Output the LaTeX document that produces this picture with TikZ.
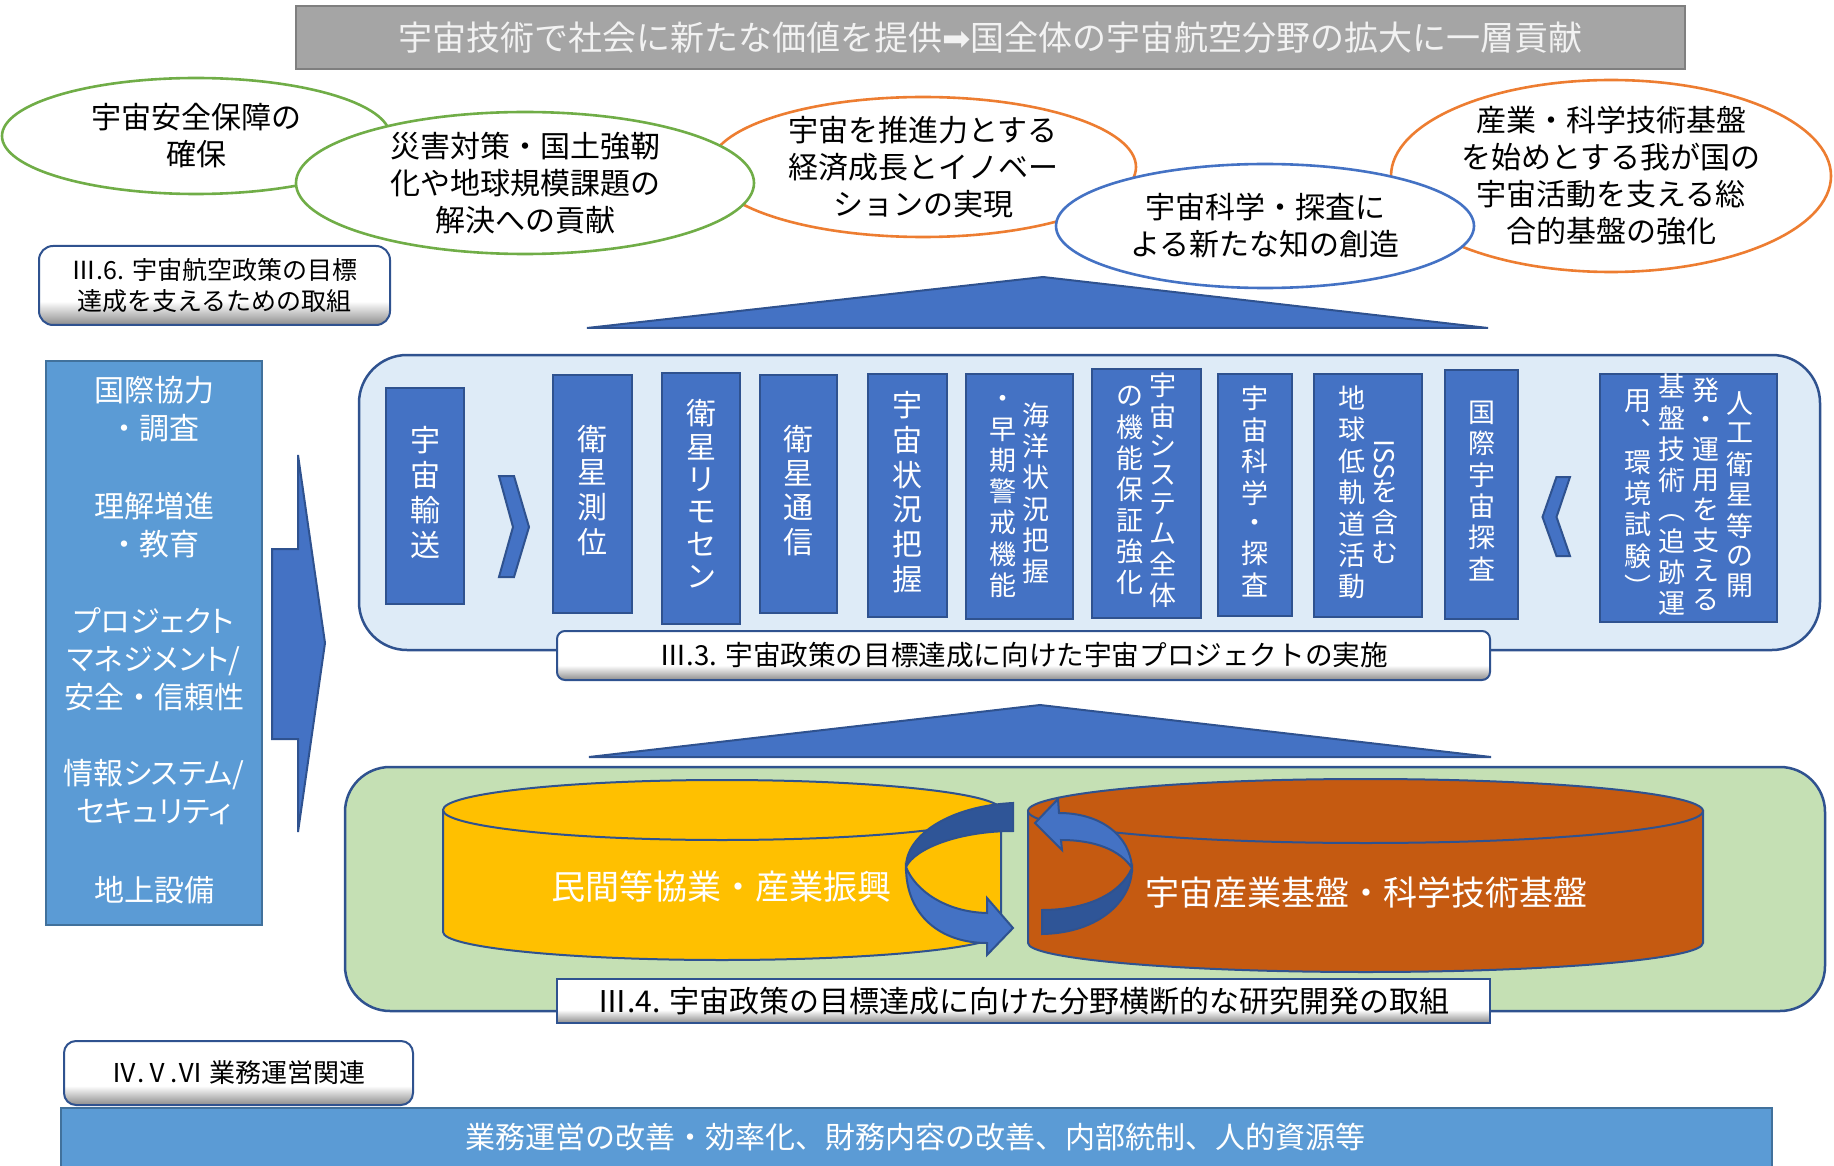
\documentclass[tikz,border=0pt]{standalone}
\usepackage{fontspec}
\setmainfont{Noto Sans CJK JP}
\newfontfamily\pfont{Noto Sans CJK JP}[RawFeature=+palt]
\newfontfamily\dejavu{DejaVu Sans}
\usepackage{graphicx}
\usetikzlibrary{shapes.geometric}
\definecolor{barblue}{HTML}{4472C4}
\definecolor{darkedge}{HTML}{2F528F}
\definecolor{colblue}{HTML}{5B9BD5}
\definecolor{coledge}{HTML}{41719C}
\definecolor{lightbg}{HTML}{DEEBF7}
\definecolor{greenbg}{HTML}{C5E0B4}
\definecolor{egreen}{HTML}{70AD47}
\definecolor{eorange}{HTML}{ED7D31}
\definecolor{topgray}{HTML}{A5A5A5}
\definecolor{topedge}{HTML}{7F7F7F}
\definecolor{cylyellow}{HTML}{FFC000}
\definecolor{cylorange}{HTML}{C55A11}
\definecolor{arrdark}{HTML}{2F5597}
\definecolor{shgray}{HTML}{8C8C8C}
\pgfdeclareverticalshading{btnshade}{100bp}{color(0bp)=(shgray); color(25bp)=(shgray); color(40bp)=(white); color(75bp)=(white); color(100bp)=(white)}
\newcommand\fsz[2]{\fontsize{#1pt}{#2pt}\selectfont}
\newcommand\vcol[1]{\begin{tabular}[c]{@{}c@{}}#1\end{tabular}}
\begin{document}
\begin{tikzpicture}[x=1pt,y=-1pt,
  every node/.style={inner sep=0pt, outer sep=0pt},
  edge/.style={draw=darkedge, line width=2pt},
  bar/.style={edge, fill=barblue, text=white, font=\fsz{30}{32}},
  barsm/.style={bar, font=\fsz{27}{29}},
  oval/.style={ellipse, draw, fill=white, line width=2.6pt},
  otext/.style={align=center, font=\fsz{30}{37}, text=black},
  ltext/.style={align=center, font=\fsz{30}{38}, text=white},
  lbl/.style={edge, shade, shading=btnshade, text=black},
  blk/.style={draw=coledge, line width=2pt, fill=colblue, text=white},
  arrlight/.style={edge, fill=barblue},
  arrdk/.style={edge, fill=arrdark},
  cyltext/.style={text=white, font=\fsz{34}{36}},
]
\useasboundingbox (0,0) rectangle (1834,1166);
\clip (0,0) rectangle (1834,1166);

% top banner
\node[draw=topedge, line width=2.5pt, fill=topgray, minimum width=1389pt, minimum height=63pt,
      text=white!95!black, font=\fsz{34}{36}] (top) at (990.5,37.5)
  {宇宙技術で社会に新たな価値を提供{\dejavu ➡}国全体の宇宙航空分野の拡大に一層貢献};

% goal ellipses
\node[oval, draw=egreen, minimum width=388pt, minimum height=116pt] (e1) at (196,136) {};
\node[oval, draw=eorange, minimum width=426pt, minimum height=140pt] (e3) at (923,167) {};
\node[oval, draw=eorange, minimum width=440pt, minimum height=192pt] (e5) at (1611,176) {};
\node[oval, draw=egreen, minimum width=458pt, minimum height=142pt] (e2) at (525,183) {};
\node[oval, draw=barblue, minimum width=418pt, minimum height=124pt] (e4) at (1265,226) {};
\node[otext] (e1t) at (e1) {宇宙安全保障の\\確保};
\node[otext] (e2t) at (e2) {災害対策・国土強靭\\化や地球規模課題の\\解決への貢献};
\node[otext] (e3t) at (e3) {宇宙を推進力とする\\経済成長とイノベー\\ションの実現};
\node[otext] (e4t) at (e4) {宇宙科学・探査に\\よる新たな知の創造};
\node[otext] (e5t) at (e5) {産業・科学技術基盤\\を始めとする我が国の\\宇宙活動を支える総\\合的基盤の強化};

% III.6 label
\node[lbl, rounded corners=14pt, minimum width=351pt, minimum height=79pt, align=center,
      font=\fsz{25}{31}] (l36) at (214.5,285.5) {Ⅲ.6. 宇宙航空政策の目標\\達成を支えるための取組};

% left column
\node[blk, minimum width=216pt, minimum height=564pt] (lc) at (154,643) {};
\node[ltext] (lc1) at (154,409) {国際協力\\・調査};
\node[ltext] (lc2) at (154,525) {理解増進\\・教育};
\node[ltext] (lc3) at (154,659.5) {{\pfont プロジェクト}\\{\pfont マネジメント/}\\安全・信頼性};
\node[ltext] (lc4) at (154,792.5) {{\pfont 情報システム/}\\{\pfont セキュリティ}};
\node[ltext] (lc5) at (154,890) {地上設備};

% big right arrow
\path[edge, fill=barblue] (272,549) -- (298,549) -- (298,455) -- (325,643) -- (298,832)
  -- (298,739) -- (272,739) -- cycle;

% upper triangle
\path[edge, fill=barblue] (587,328) -- (1043,277) -- (1488,328) -- cycle;

% projects panel
\node[edge, line width=2.5pt, fill=lightbg, rounded corners=48pt, minimum width=1461pt,
      minimum height=295pt] (proj) at (1089.5,502.5) {};
\node[bar, minimum width=78pt, minimum height=216pt] (b1) at (425,496) {\vcol{宇\\宙\\輸\\送}};
\node[bar, minimum width=79pt, minimum height=238pt] (b2) at (592.5,494) {\vcol{衛\\星\\測\\位}};
\node[bar, minimum width=78pt, minimum height=251pt] (b3) at (701,498.5) {\vcol{衛\\星\\リ\\モ\\セ\\ン}};
\node[bar, minimum width=77pt, minimum height=238pt] (b4) at (798.5,494) {\vcol{衛\\星\\通\\信}};
\node[bar, minimum width=79pt, minimum height=243pt] (b5) at (907.5,495.5) {\vcol{宇\\宙\\状\\況\\把\\握}};
\node[barsm, minimum width=107pt, minimum height=245pt] (b6) at (1019.5,496.5)
  {\mbox{\vcol{・\\早\\期\\警\\戒\\機\\能}\hspace{6pt}\vcol{海\\洋\\状\\況\\把\\握}}};
\node[barsm, minimum width=109pt, minimum height=249pt] (b7) at (1146.5,493.5)
  {\mbox{\vcol{の\\機\\能\\保\\証\\強\\化}\hspace{6pt}\vcol{宇\\宙\\シ\\ス\\テ\\ム\\全\\体}}};
\node[barsm, minimum width=74pt, minimum height=242pt] (b8) at (1255,495) {\vcol{宇\\宙\\科\\学\\・\\探\\査}};
\node[barsm, minimum width=108pt, minimum height=243pt] (b9) at (1368,495.5)
  {\mbox{\vcol{地\\球\\低\\軌\\道\\活\\動}\hspace{6pt}\vcol{\rotatebox{-90}{ISS}\\を\\含\\む}}};
\node[barsm, minimum width=73pt, minimum height=249pt] (b10) at (1481.5,494.5) {\vcol{国\\際\\宇\\宙\\探\\査}};
\node[barsm, minimum width=177pt, minimum height=248pt] (b11) at (1688.5,498)
  {\mbox{\vcol{用\\︑\\環\\境\\試\\験\\︶}\hspace{7pt}\vcol{基\\盤\\技\\術\\︵\\追\\跡\\運}\hspace{7pt}\vcol{発\\・\\運\\用\\を\\支\\え\\る}\hspace{7pt}\vcol{人\\工\\衛\\星\\等\\の\\開}}};
% chevrons
\path[edge, fill=barblue] (499,476) -- (514,476) -- (529,527) -- (514,577) -- (499,577) -- (513,527) -- cycle;
\path[edge, fill=barblue] (1556.5,477) -- (1570,477) -- (1556.5,517) -- (1570,556) -- (1556.5,556) -- (1542.5,517) -- cycle;

\node[lbl, rounded corners=8pt, minimum width=933pt, minimum height=49pt, font=\fsz{27.6}{30}] (l33)
  at (1023.5,655.5) {Ⅲ.3. 宇宙政策の目標達成に向けた宇宙プロジェクトの実施};

% lower triangle
\path[edge, fill=barblue] (589,757) -- (1040,705) -- (1491,757) -- cycle;

% R&D panel
\node[edge, line width=2.5pt, fill=greenbg, rounded corners=45pt, minimum width=1480pt,
      minimum height=244pt] (green) at (1085,889) {};
% cylinders
\filldraw[edge, fill=cylyellow] (443,810) -- (443,932) arc[start angle=180, end angle=0, x radius=279, y radius=28] -- (1001,810) -- cycle;
\filldraw[edge, fill=cylyellow] (722,810) ellipse [x radius=279, y radius=30];
\filldraw[edge, fill=cylorange] (1028,811) -- (1028,943) arc[start angle=180, end angle=0, x radius=337.5, y radius=29] -- (1703,811) -- cycle;
\filldraw[edge, fill=cylorange] (1365.5,811) ellipse [x radius=337.5, y radius=32];
% circular arrows
\path[arrdk] (1013,803) .. controls (950,806) and (906,835) .. (906,867)
  .. controls (915,848) and (960,831) .. (1013,831) -- cycle;
\path[arrlight] (906,867) .. controls (906,915) and (940,943) .. (987,943) -- (987,955) -- (1013,928)
  -- (987,898) -- (987,913) .. controls (945,912) and (915,890) .. (906,867) -- cycle;
\path[arrdk] (1042,934) .. controls (1100,933) and (1132,900) .. (1132,868)
  .. controls (1120,895) and (1085,910) .. (1042,910) -- cycle;
\path[arrlight] (1132,868) .. controls (1130,835) and (1100,813) .. (1059,813) -- (1058,799) -- (1035,823)
  -- (1062,850) -- (1061,840) .. controls (1095,840) and (1120,850) .. (1132,868) -- cycle;
\node[cyltext] (c1t) at (721,887) {民間等協業・産業振興};
\node[cyltext] (c2t) at (1366,893) {宇宙産業基盤・科学技術基盤};

\node[lbl, minimum width=933pt, minimum height=44pt, font=\fsz{30}{32}] (l34)
  at (1023.5,1001) {Ⅲ.4. 宇宙政策の目標達成に向けた分野横断的な研究開発の取組};

% operations
\node[lbl, rounded corners=12pt, minimum width=349pt, minimum height=64pt, font=\fsz{26}{28}] (l4)
  at (238.5,1073) {Ⅳ.Ⅴ.Ⅵ 業務運営関連};
\node[blk, minimum width=1711pt, minimum height=66pt] (bot) at (916.5,1141) {};
\node[text=white, font=\fsz{30}{32}] (bott) at (915,1137)
  {業務運営の改善・効率化、財務内容の改善、内部統制、人的資源等};
\end{tikzpicture}
\end{document}
